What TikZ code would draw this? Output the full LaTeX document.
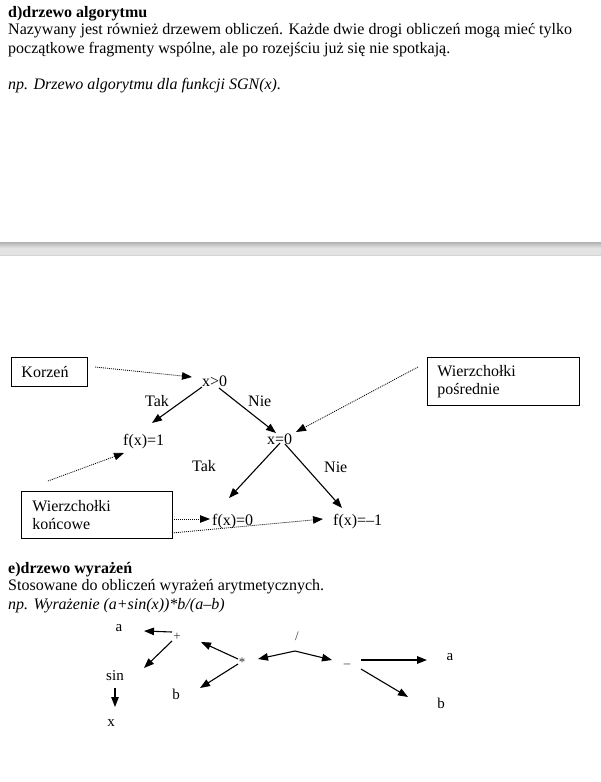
\documentclass[tikz,border=0pt]{standalone}
\usepackage{fontspec}
\setmainfont{Liberation Serif}
\usetikzlibrary{arrows.meta}
\begin{document}
\begin{tikzpicture}[x=1pt,y=-1pt,
  txt/.style={anchor=base west,inner sep=0pt,font=\fontsize{16}{19}\selectfont},
  lbl/.style={anchor=base west,inner sep=0pt,font=\fontsize{16}{19}\selectfont},
  tlbl/.style={inner sep=0pt,font=\fontsize{15}{18}\selectfont},
  oplbl/.style={inner sep=0pt,font=\fontsize{13}{15}\selectfont,text=black!80},
  boxnode/.style={draw,line width=0.9pt,anchor=north west,align=left,inner ysep=0pt,font=\fontsize{16}{18.5}\selectfont},
  solidarrow/.style={line width=1.1pt,-{Triangle[length=10pt,width=7.5pt]}},
  dotarrow/.style={line width=0.8pt,dash pattern=on 1pt off 1pt,-{Triangle[length=10pt,width=7.5pt]}},
  thickarrow/.style={line width=1.6pt,-{Triangle[length=10pt,width=7.5pt]}}
]
\useasboundingbox (0,0) rectangle (601,782);
\fill[white] (0,0) rectangle (601,782);

% ---- section d text
\node[txt] (h1) at (8,17) {\textbf{d)drzewo algorytmu}};
\node[txt] (l1) at (8,34) {Nazywany jest również drzewem obliczeń. Każde dwie drogi obliczeń mogą mieć tylko};
\node[txt] (l2) at (8,53) {początkowe fragmenty wspólne, ale po rozejściu już się nie spotkają.};
\node[txt] (l3) at (8,89) {\textit{np. Drzewo algorytmu dla funkcji SGN(x).}};

% ---- gray band
\fill[black!11] (0,242) rectangle (601,256);
\shade[top color=black!30,bottom color=black!11] (0,242) rectangle (601,248);
\fill[black!17] (0,255) rectangle (601,256);

% ---- algorithm tree
\node[boxnode,minimum width=76pt,minimum height=29pt,inner xsep=10pt,text width=56pt] (kor) at (11,357) {Korzeń};
\node[boxnode,minimum width=152pt,minimum height=48pt,inner xsep=10pt,text width=132pt] (posr) at (427,357) {Wierzchołki\\pośrednie};
\node[boxnode,minimum width=151pt,minimum height=47pt,inner xsep=11pt,text width=129pt] (konc) at (21,491) {Wierzchołki\\końcowe};

\node[lbl] (root) at (202,386) {x>0};
\node[lbl] (tak1) at (145,406) {Tak};
\node[lbl] (nie1) at (248,406) {Nie};
\node[lbl] (f1) at (123,445) {f(x)=1};
\node[lbl] (x0) at (267,444) {x=0};
\node[lbl] (tak2) at (192,471) {Tak};
\node[lbl] (nie2) at (324,472) {Nie};
\node[lbl] (f0) at (212,525) {f(x)=0};
\node[lbl] (fm1) at (333,525) {f(x)=–1};

\coordinate (a1s) at (95,367);  \coordinate (a1e) at (192,377);
\coordinate (a2s) at (202,387); \coordinate (a2e) at (152,423);
\coordinate (a3s) at (219,388); \coordinate (a3e) at (276,433);
\coordinate (a4s) at (418,367); \coordinate (a4e) at (296,432);
\coordinate (a5s) at (280,443); \coordinate (a5e) at (229,498);
\coordinate (a6s) at (285,444); \coordinate (a6e) at (342,508);
\coordinate (a7s) at (48,481);  \coordinate (a7e) at (124,453);
\coordinate (a8s) at (172,519); \coordinate (a8e) at (210,519);
\coordinate (a9s) at (172,533); \coordinate (a9e) at (323,519);

\draw[dotarrow] (a1s) -- (a1e);
\draw[solidarrow] (a2s) -- (a2e);
\draw[solidarrow] (a3s) -- (a3e);
\draw[dotarrow] (a4s) -- (a4e);
\draw[solidarrow] (a5s) -- (a5e);
\draw[solidarrow] (a6s) -- (a6e);
\draw[dotarrow] (a7s) -- (a7e);
\draw[dotarrow] (a8s) -- (a8e);
\draw[dotarrow] (a9s) -- (a9e);

% ---- section e text
\node[txt] (h2) at (8,573) {\textbf{e)drzewo wyrażeń}};
\node[txt] (m1) at (8,590) {Stosowane do obliczeń wyrażeń arytmetycznych.};
\node[txt] (m2) at (8,609) {\textit{np. Wyrażenie (a+sin(x))*b/(a–b)}};

% ---- expression tree
\node[tlbl] (ea) at (119,628) {a};
\node[oplbl] (plus) at (177,637) {+};
\node[tlbl] (sin) at (115,676) {sin};
\node[tlbl] (ex) at (111,723) {x};
\node[oplbl] (star) at (242,662) {*};
\node[tlbl] (eb) at (176,694) {b};
\node[oplbl] (div) at (297,636) {/};
\node[oplbl] (minus) at (347,666) {–};
\node[tlbl] (ea2) at (450,657) {a};
\node[tlbl] (eb2) at (441,703) {b};

\coordinate (b1s) at (172,632); \coordinate (b1e) at (144,631);
\coordinate (b2s) at (172,641); \coordinate (b2e) at (144,668);
\coordinate (b3s) at (115,688); \coordinate (b3e) at (115,707);
\coordinate (b4s) at (238,659); \coordinate (b4e) at (201,642);
\coordinate (b5s) at (238,664); \coordinate (b5e) at (200,688);
\coordinate (b6c) at (295,651); \coordinate (b6l) at (258,659); \coordinate (b6r) at (332,660);
\coordinate (b7s) at (361,660); \coordinate (b7e) at (427,660);
\coordinate (b8s) at (361,669); \coordinate (b8e) at (408,697);

\draw[solidarrow] (b1s) -- (b1e);
\draw[solidarrow] (b2s) -- (b2e);
\draw[solidarrow] (b3s) -- (b3e);
\draw[solidarrow] (b4s) -- (b4e);
\draw[solidarrow] (b5s) -- (b5e);
\draw[solidarrow] (b6c) -- (b6l);
\draw[solidarrow] (b6c) -- (b6r);
\draw[thickarrow] (b7s) -- (b7e);
\draw[solidarrow] (b8s) -- (b8e);
\end{tikzpicture}
\end{document}
